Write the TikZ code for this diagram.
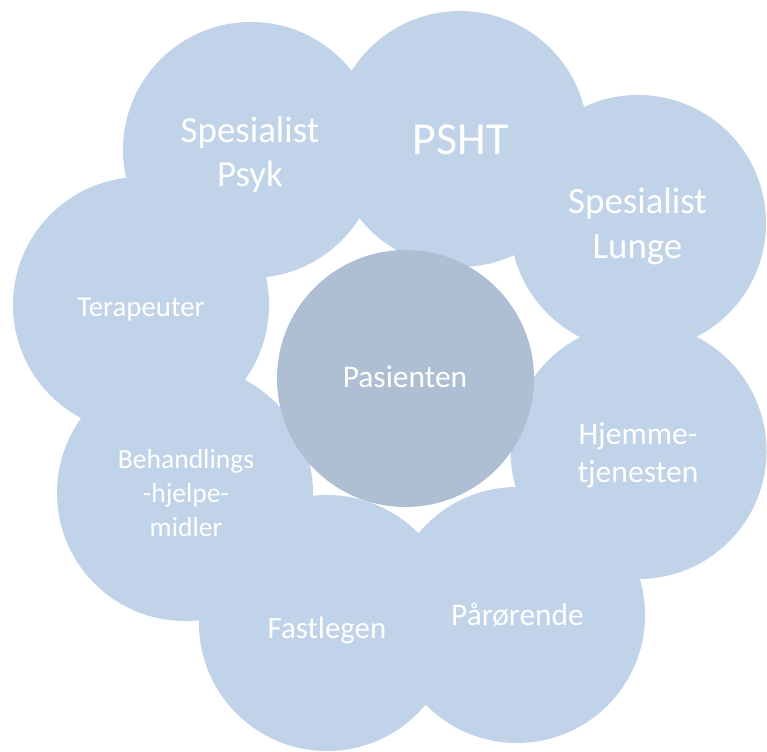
\documentclass[tikz,border=0pt]{standalone}
\usepackage{fontspec}
\setmainfont{Carlito}
\usepackage{tikz}

\definecolor{petal}{RGB}{192,211,232}
\definecolor{core}{RGB}{175,191,211}

\tikzset{
 petal/.style={circle, fill=petal, minimum size=5.12cm, inner sep=0pt},
 corebox/.style={circle, fill=core, minimum size=5.14cm, inner sep=0pt},
 txt/.style={text=white, align=center, inner sep=0pt}
}

\begin{document}
\begin{tikzpicture}
 \useasboundingbox (0,0) rectangle (15.34,15.02);
 % outer circles
 \node[petal] at (5.02,12.02)(psyk){};
 \node[petal] at (9.20,12.24)(psht){};
 \node[petal] at (12.76,10.56)(lunge){};
 \node[petal] at (2.82,8.92)(terap){};
 \node[petal] at (12.77,6.00)(hjem){};
 \node[petal] at (3.70,5.16)(behand){};
 \node[petal] at (6.54,2.56)(fast){};
 \node[petal] at (10.34,2.72)(paar){};
 % middle
 \node[corebox] at (8.11,7.45)(pas){};
 % texts
 \node[txt, font=\fontsize{21}{25.2}\selectfont] at (5.00,11.93)(psyk-t){Spesialist\\Psyk};
 \node[txt, font=\fontsize{26.1}{31}\selectfont] at (9.21,12.22)(psht-t){PSHT};
 \node[txt, font=\fontsize{21}{25.2}\selectfont] at (12.75,10.49)(lunge-t){Spesialist\\Lunge};
 \node[txt, font=\fontsize{16.4}{19.7}\selectfont] at (2.82,8.83)(terap-t){Terapeuter};
 \node[txt, font=\fontsize{17.9}{21.5}\selectfont] at (8.10,7.48)(pas-t){Pasienten};
 \node[txt, font=\fontsize{18}{22}\selectfont] at (12.76,5.91)(hjem-t){Hjemme-\\tjenesten};
 \node[txt, font=\fontsize{15.7}{19.1}\selectfont] at (3.72,5.16)(behand-t){Behandlings\\-hjelpe-\\midler};
 \node[txt, font=\fontsize{17.6}{21}\selectfont] at (6.54,2.42)(fast-t){Fastlegen};
 \node[txt, font=\fontsize{17.9}{21.5}\selectfont] at (10.35,2.72)(paar-t){Pårørende};
\end{tikzpicture}
\end{document}
